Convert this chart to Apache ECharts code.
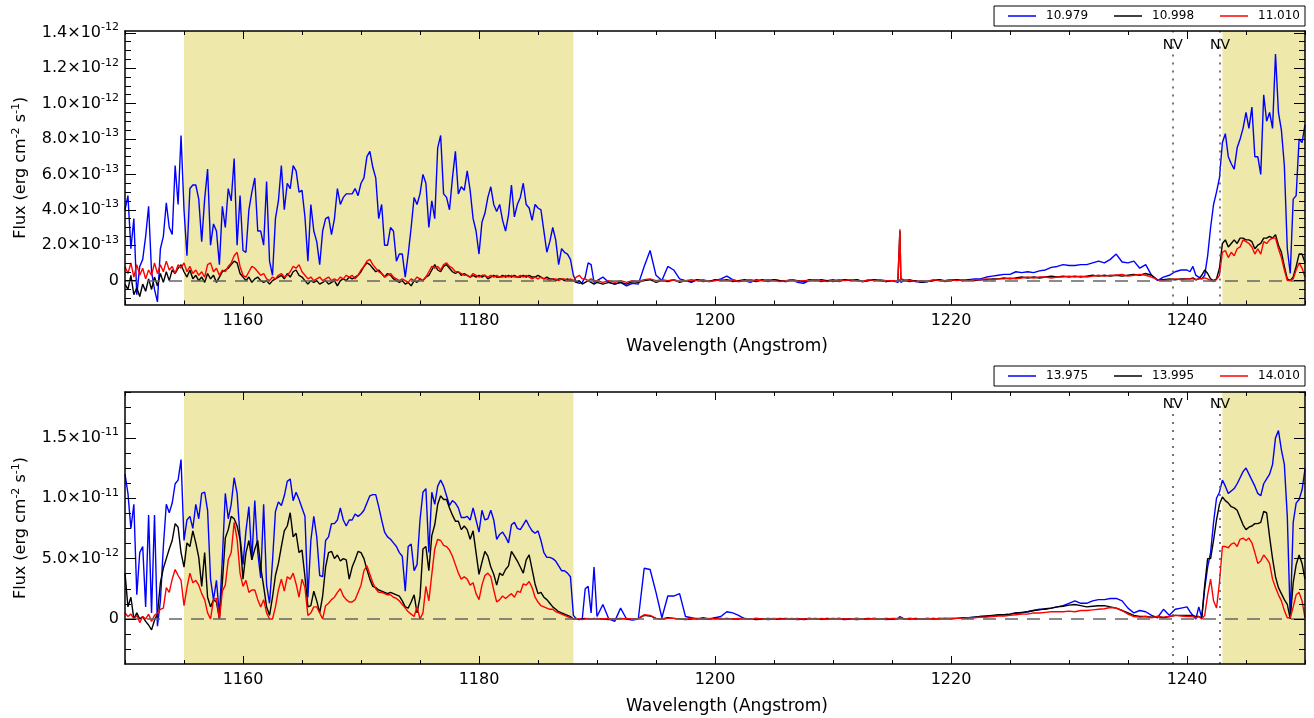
<!DOCTYPE html>
<html><head><meta charset="utf-8">
<script src="https://cdn.jsdelivr.net/npm/echarts@6/dist/echarts.min.js"></script>
<style>html,body{margin:0;padding:0;background:#fff}#c{width:1314px;height:718px}</style>
</head><body><div id="c"></div>
<script>
// ---------------- wavelength sampling (Angstrom) ----------------
const waveA = [
1150,1150.25,1150.5,1150.75,1151,1151.25,1151.5,1151.75,
1152,1152.25,1152.5,1152.75,1153,1153.25,1153.5,1153.75,
1154,1154.25,1154.5,1154.75,1155,1155.25,1155.5,1155.75,
1156,1156.25,1156.5,1156.75,1157,1157.25,1157.5,1157.75,
1158,1158.25,1158.5,1158.75,1159,1159.25,1159.5,1159.75,
1160,1160.25,1160.5,1160.75,1161,1161.25,1161.5,1161.75,
1162,1162.25,1162.5,1162.75,1163,1163.25,1163.5,1163.75,
1164,1164.25,1164.5,1164.75,1165,1165.25,1165.5,1165.75,
1166,1166.25,1166.5,1166.75,1167,1167.25,1167.5,1167.75,
1168,1168.25,1168.5,1168.75,1169,1169.25,1169.5,1169.75,
1170,1170.25,1170.5,1170.75,1171,1171.25,1171.5,1171.75,
1172,1172.25,1172.5,1172.75,1173,1173.25,1173.5,1173.75,
1174,1174.25,1174.5,1174.75,1175,1175.25,1175.5,1175.75,
1176,1176.25,1176.5,1176.75,1177,1177.25,1177.5,1177.75,
1178,1178.25,1178.5,1178.75,1179,1179.25,1179.5,1179.75,
1180,1180.25,1180.5,1180.75,1181,1181.25,1181.5,1181.75,
1182,1182.25,1182.5,1182.75,1183,1183.25,1183.5,1183.75,
1184,1184.25,1184.5,1184.75,1185,1185.25,1185.5,1185.75,
1186,1186.25,1186.5,1186.75,1187,1187.25,1187.5,1187.75,
1188,1188.25,1188.5,1188.75,1189,1189.25,1189.5,1189.75,
1190];
const waveB = [
1190.5,1191,1191.5,1192,1192.5,1193,1193.5,1194,1194.5,1195,
1195.5,1196,1196.5,1197,1197.5,1198,1198.5,1199,1199.5,1200,
1200.5,1201,1201.5,1202,1202.5,1203,1203.5,1204,1204.5,1205,
1205.5,1206,1206.5,1207,1207.5,1208,1208.5,1209,1209.5,1210,
1210.5,1211,1211.5,1212,1212.5,1213,1213.5,1214,1214.5,1215,
1215.5,1215.6,1215.67,1215.75,1216,1216.5,1217,1217.5,1218,1218.5,1219,1219.5,1220,
1220.5,1221,1221.5,1222,1222.5,1223,1223.5,1224,1224.5,1225,
1225.5,1226,1226.5,1227,1227.5,1228,1228.5,1229,1229.5,1230,
1230.5,1231,1231.5,1232,1232.5,1233,1233.5,1234,1234.5,1235,
1235.5,1236,1236.5,1237,1237.5,1238,1238.5,1239,1239.5,1240];
const waveC = [
1240.25,1240.5,1240.75,1241,1241.25,1241.5,1241.75,1242,
1242.25,1242.5,1242.75,1243,1243.25,1243.5,1243.75,1244,
1244.25,1244.5,1244.75,1245,1245.25,1245.5,1245.75,1246,
1246.25,1246.5,1246.75,1247,1247.25,1247.5,1247.75,1248,
1248.25,1248.5,1248.75,1249,1249.25,1249.5,1249.75,1250];

// ---------------- top panel flux (units of 1e-13 erg cm-2 s-1) ----------------
const topBlueA = [
4.0,4.8,1.8,3.5,-0.8,0.8,1.2,2.5,
4.2,0.5,-0.5,-1.2,1.8,2.5,4.4,3.0,
2.6,6.5,4.3,8.2,4.0,1.4,5.2,5.4,
5.4,4.6,2.2,4.6,6.3,2.0,3.2,2.8,
0.9,4.2,3.0,5.2,4.5,6.9,2.0,4.8,
1.7,1.6,4.0,5.0,5.8,2.8,2.8,2.0,
5.6,1.1,0.3,3.5,4.5,6.5,4.0,5.5,
5.2,6.5,6.2,5.0,5.1,3.6,1.1,4.3,
2.8,2.2,0.9,2.8,3.5,3.6,2.6,3.5,
5.2,4.3,4.7,4.9,4.9,4.9,5.2,4.8,
5.5,5.8,7.0,7.3,6.4,5.8,3.5,4.3,
2.0,2.0,3.0,2.8,1.1,1.5,1.5,0.2,
1.5,3.0,4.7,4.3,4.9,6.0,5.5,3.0,
4.5,3.5,7.5,8.2,4.9,4.7,4.0,5.8,
7.3,4.9,5.3,5.1,6.2,5.1,3.5,2.8,
1.5,3.3,3.8,4.7,5.3,4.3,3.9,4.3,
3.4,2.8,3.7,5.4,3.6,4.3,4.7,5.5,
4.3,4.1,3.4,4.3,4.1,4.0,2.8,1.6,
2.2,3.0,2.3,0.9,1.8,1.6,1.5,1.2,
0.3,-0.1,-0.15,-0.1,0.2,1.0,0.9,-0.1,
0.0];
const topBlueB = [
0.2,-0.1,-0.2,-0.1,-0.3,-0.15,-0.2,0.8,1.7,0.3,
0.0,0.8,0.6,0.1,0.0,-0.1,0.05,-0.05,0.0,0.0,
0.1,0.25,0.05,-0.05,0.0,-0.1,0.05,0.0,-0.05,0.05,
0.0,-0.05,0.05,-0.1,-0.15,0.0,0.05,-0.05,0.0,0.05,
-0.05,0.05,0.0,0.05,-0.05,0.0,0.05,0.0,-0.05,0.0,
-0.1,0.0,0.05,-0.1,0.0,0.05,-0.05,-0.1,-0.05,0.0,0.05,0.0,0.05,
0.05,0.0,0.05,0.1,0.1,0.2,0.25,0.3,0.35,0.35,
0.5,0.45,0.5,0.45,0.55,0.6,0.75,0.8,0.9,0.85,
0.85,0.9,0.9,1.0,1.1,1.0,1.2,1.5,1.05,1.0,
1.1,0.7,0.9,0.3,0.0,0.2,0.3,0.5,0.6,0.6];
const topBlueC = [
0.5,0.8,0.3,0.2,0.1,0.3,1.4,3.0,
4.3,5.0,5.8,7.8,8.3,7.0,6.6,6.3,
7.5,8.0,8.6,9.5,8.6,9.8,7.0,7.0,
6.0,10.5,9.0,9.5,8.6,12.8,9.5,8.5,
6.5,1.8,0.4,4.6,4.8,8.0,7.8,8.8];

const topBlackA = [
-0.2,-0.5,0.3,-0.8,-0.4,-0.9,-0.2,-0.6,
0.1,-0.5,0.2,-0.3,0.4,-0.1,0.5,0.0,
0.6,0.4,0.7,0.9,0.5,0.2,0.6,0.1,
0.3,0.0,0.2,-0.1,0.4,0.1,0.3,-0.1,
0.2,0.5,0.6,0.7,0.9,1.1,1.0,0.4,
0.2,0.0,0.2,-0.1,0.1,0.2,0.0,-0.1,
0.0,-0.2,0.0,0.1,0.2,0.3,0.1,0.4,
0.2,0.5,0.6,0.3,0.2,0.0,-0.2,0.0,
-0.1,0.0,-0.2,-0.1,0.0,-0.2,-0.1,0.0,
-0.3,0.0,0.1,0.0,0.2,0.1,0.2,0.3,
0.5,0.8,1.0,0.9,0.7,0.5,0.6,0.4,
0.2,0.4,0.3,0.1,0.0,-0.1,0.0,-0.2,
-0.1,-0.3,0.0,-0.1,0.1,0.0,0.2,0.3,
0.6,0.9,0.6,0.5,0.8,0.9,0.7,0.5,
0.4,0.5,0.3,0.4,0.3,0.2,0.3,0.2,
0.3,0.2,0.3,0.1,0.2,0.3,0.2,0.2,
0.3,0.2,0.3,0.2,0.3,0.2,0.2,0.3,
0.2,0.3,0.2,0.2,0.3,0.2,0.1,0.2,
0.1,0.1,0.0,0.1,0.1,0.0,0.1,0.0,
0.0,-0.1,0.0,-0.2,-0.1,0.0,-0.1,-0.2,
-0.1];
const topBlackB = [
-0.2,-0.1,-0.2,-0.1,-0.2,-0.05,-0.1,0.0,0.05,-0.1,
0.0,-0.05,0.05,-0.1,0.0,-0.05,0.05,0.0,-0.05,0.05,
0.0,0.05,-0.05,0.0,0.05,0.0,-0.05,0.05,0.0,0.05,
0.0,-0.05,0.05,0.0,-0.05,0.05,0.0,0.05,0.0,-0.05,
0.0,0.05,0.0,0.05,-0.05,0.0,0.05,0.0,-0.05,0.0,
0.0,0.1,2.8,0.1,0.0,-0.05,0.0,-0.1,-0.05,0.0,0.05,-0.05,0.0,
0.05,0.0,0.05,0.0,0.05,0.05,0.1,0.1,0.15,0.1,
0.15,0.2,0.15,0.2,0.15,0.2,0.25,0.2,0.25,0.2,
0.25,0.2,0.25,0.3,0.25,0.3,0.25,0.3,0.25,0.3,
0.35,0.3,0.4,0.3,0.05,0.05,0.1,0.05,0.1,0.1];
const topBlackC = [
0.1,0.15,0.05,0.1,0.3,0.6,0.4,0.1,
0.0,0.1,0.7,2.1,2.3,1.9,2.1,2.3,
2.1,2.4,2.4,2.3,2.3,2.2,1.8,2.0,
2.1,2.4,2.4,2.5,2.4,2.6,2.0,1.6,
0.8,0.1,0.0,0.2,0.8,1.5,1.5,1.0];

const topRedA = [
0.8,0.4,1.0,0.2,0.9,0.3,0.7,0.1,
0.6,0.3,1.0,0.4,0.9,0.5,1.1,0.6,
0.8,0.4,0.9,0.7,1.0,0.5,0.8,0.4,
0.6,0.3,0.5,0.2,0.9,1.0,0.5,0.7,
0.3,0.6,0.5,0.8,1.0,1.4,1.6,0.8,
0.3,0.2,0.5,0.8,0.7,0.5,0.3,0.4,
0.1,0.0,0.2,0.1,0.3,0.4,0.2,0.3,
0.5,0.8,0.7,0.9,0.5,0.3,0.1,0.2,
0.0,0.1,0.2,0.0,0.1,0.2,0.0,0.1,
0.0,0.2,0.1,0.3,0.2,0.3,0.1,0.3,
0.6,0.8,1.1,1.2,0.9,0.7,0.5,0.4,
0.2,0.3,0.4,0.2,0.1,0.0,0.1,0.0,
-0.1,0.1,0.0,0.2,0.1,0.0,0.2,0.5,
0.8,0.7,0.8,0.6,0.9,1.0,0.8,0.7,
0.5,0.5,0.4,0.3,0.3,0.2,0.4,0.3,
0.2,0.3,0.3,0.2,0.3,0.2,0.3,0.2,
0.2,0.3,0.2,0.3,0.2,0.2,0.3,0.2,
0.3,0.2,0.1,0.2,0.1,0.2,0.1,0.1,
0.0,0.1,0.1,0.0,0.1,0.1,0.0,0.1,
0.0,0.2,0.3,0.1,0.1,0.0,0.1,0.0,
0.0];
const topRedB = [
-0.1,0.0,-0.1,0.0,-0.1,0.0,-0.05,0.05,0.1,0.0,
0.05,0.0,0.05,-0.05,0.0,0.05,0.0,0.05,-0.05,0.0,
0.05,0.0,0.05,-0.05,0.0,0.05,0.0,0.0,0.05,0.0,
-0.05,0.0,0.05,-0.05,0.0,0.0,0.05,0.0,-0.05,0.0,
0.05,0.0,0.05,0.0,-0.05,0.05,0.0,0.05,0.0,0.0,
0.0,0.1,2.9,0.1,0.05,0.0,-0.05,0.0,-0.05,0.05,0.0,0.0,0.05,
0.0,0.05,0.0,0.05,0.05,0.1,0.05,0.1,0.1,0.15,
0.1,0.15,0.2,0.15,0.2,0.2,0.15,0.2,0.2,0.25,
0.2,0.25,0.2,0.25,0.3,0.25,0.3,0.3,0.35,0.25,
0.3,0.35,0.3,0.2,0.05,0.0,0.05,0.1,0.05,0.1];
const topRedC = [
0.1,0.1,0.05,0.1,0.1,0.15,0.1,0.0,
-0.05,0.05,0.3,1.6,1.7,1.3,1.6,1.4,
1.8,1.9,2.3,2.2,2.1,1.9,1.5,1.8,
1.5,2.2,2.1,2.3,2.4,2.4,1.8,1.3,
0.6,0.0,0.0,0.1,0.6,1.0,0.7,0.2];

// ---------------- bottom panel flux (units of 1e-12 erg cm-2 s-1) ----------------
const botBlueA = [
12.0,10.4,7.5,9.5,2.0,5.5,6.0,1.0,
8.6,0.5,8.6,-0.6,1.5,6.0,9.5,8.8,
9.6,11.2,11.5,13.2,6.5,8.2,8.5,7.5,
9.5,8.3,10.4,10.5,9.0,3.3,1.6,3.2,
0.3,5.0,10.4,8.3,9.5,11.7,10.4,6.8,
4.5,7.3,9.3,4.9,9.8,5.5,3.4,9.5,
2.8,1.3,4.8,8.9,9.7,9.4,10.2,11.4,
11.6,9.8,10.5,9.9,9.2,8.5,1.8,6.5,
8.5,6.8,3.6,3.5,6.5,6.8,7.9,7.9,
8.2,9.2,8.2,7.7,8.2,8.2,8.7,8.5,
8.7,9.0,9.6,10.2,10.3,10.3,9.3,8.2,
7.2,6.8,6.6,6.3,6.0,5.5,5.2,2.3,
6.0,6.2,4.0,4.5,8.2,10.5,10.8,5.5,
10.5,9.5,11.0,11.5,11.0,10.2,9.4,9.8,
9.6,9.2,8.4,8.4,8.5,8.2,9.2,8.2,
7.2,9.0,8.2,8.3,9.0,8.2,6.6,7.0,
7.2,6.8,6.3,7.8,8.0,7.5,7.4,7.8,
8.2,7.7,7.3,7.1,7.3,6.5,5.5,5.1,
5.1,5.0,4.8,4.4,4.0,4.0,3.8,3.5,
0.3,0.0,0.0,0.0,2.5,2.7,0.5,4.3,
0.2];
const botBlueB = [
1.2,0.0,-0.2,0.9,0.0,-0.1,0.0,4.2,4.1,2.2,
0.1,1.9,1.9,2.1,0.2,0.1,0.0,0.1,0.0,0.1,
0.2,0.6,0.5,0.3,0.0,0.0,0.05,0.0,-0.05,0.0,
0.05,0.0,0.0,0.05,-0.05,0.0,0.05,0.0,0.0,0.05,
0.0,-0.05,0.0,0.05,0.0,0.0,0.05,0.0,-0.05,0.0,
0.0,0.1,0.2,0.1,0.0,0.05,0.0,0.0,0.05,0.0,0.05,0.05,0.0,
0.05,0.1,0.1,0.15,0.2,0.2,0.25,0.3,0.35,0.4,
0.5,0.5,0.6,0.7,0.8,0.8,0.9,1.0,1.1,1.3,
1.5,1.3,1.3,1.5,1.6,1.6,1.7,1.7,1.5,0.9,
0.5,0.7,0.6,0.3,0.1,0.8,0.3,0.8,0.9,1.0];
const botBlueC = [
0.6,0.3,0.0,1.0,0.1,2.5,4.3,5.5,
8.0,10.0,10.5,11.5,11.0,10.4,10.6,10.8,
11.2,11.7,12.2,12.5,12.0,11.5,11.0,10.4,
10.2,11.2,11.6,12.0,12.8,15.0,15.6,14.0,
12.8,8.5,0.0,8.0,9.6,9.9,10.7,12.4];

const botBlackA = [
3.8,1.0,1.8,0.0,0.5,0.0,0.2,-0.2,
-0.5,-0.9,-0.1,0.4,3.0,4.2,5.0,5.8,
6.5,7.9,7.6,5.5,4.3,6.3,6.0,7.3,
6.3,5.1,2.7,5.5,1.8,1.0,1.6,1.4,
0.0,3.0,6.7,7.4,8.5,8.3,7.7,6.6,
3.3,5.5,6.5,4.9,5.8,6.5,4.3,2.7,
1.0,0.3,1.8,3.6,4.6,6.0,7.3,7.7,
8.8,6.8,7.1,5.5,5.7,3.5,1.0,1.1,
2.3,1.5,0.5,1.9,4.3,5.5,5.6,5.0,
5.3,4.8,5.0,4.9,3.3,4.3,4.9,5.6,
5.5,5.0,4.1,3.3,2.7,2.6,2.4,2.3,
2.2,2.1,2.2,2.1,2.0,1.9,1.5,1.0,
0.9,1.4,2.0,0.5,1.8,5.8,6.0,4.0,
6.9,7.8,9.5,10.2,9.9,9.9,9.2,8.6,
8.1,8.1,7.4,7.7,7.4,6.6,7.3,5.5,
3.7,4.7,5.6,5.2,4.3,3.7,2.8,3.8,
3.6,4.1,4.4,5.6,5.2,4.8,4.3,3.8,
4.9,5.3,4.1,2.9,2.1,2.2,1.8,1.6,
1.3,1.0,0.8,0.6,0.5,0.4,0.3,0.2,
0.0,0.0,-0.05,0.0,0.05,0.0,0.0,0.05,
0.0];
const botBlackB = [
0.0,-0.05,0.0,0.05,0.0,0.0,0.05,0.3,0.25,0.05,
0.0,0.1,0.05,0.0,-0.05,0.0,0.05,0.0,0.0,0.05,
0.0,0.05,0.0,0.0,0.05,0.0,-0.05,0.0,0.05,0.0,
0.0,0.05,0.0,-0.05,0.0,0.05,0.0,0.0,0.05,0.0,
0.05,0.0,0.0,-0.05,0.0,0.05,0.0,0.0,0.05,0.0,
0.05,0.05,0.1,0.05,0.0,0.0,0.05,0.0,0.0,0.05,0.0,0.05,0.05,
0.05,0.05,0.1,0.15,0.2,0.25,0.3,0.35,0.35,0.4,
0.5,0.55,0.6,0.7,0.75,0.85,0.9,1.0,1.05,1.15,
1.2,1.1,1.0,1.05,1.1,1.1,1.0,0.9,0.7,0.5,
0.3,0.2,0.2,0.15,0.2,0.1,0.2,0.3,0.3,0.3];
const botBlackC = [
0.3,0.3,0.2,0.2,0.1,2.8,5.0,5.0,
6.5,8.2,9.5,10.1,9.8,9.6,9.3,9.2,
9.0,8.4,7.8,7.4,7.6,7.7,7.9,7.9,
8.0,8.9,8.8,6.8,5.0,3.5,2.6,2.1,
1.6,1.2,0.0,3.0,4.5,5.3,4.6,3.3];

const botRedA = [
0.5,0.2,0.4,0.0,0.3,-0.3,0.2,0.0,
0.4,-0.2,0.3,0.5,0.8,0.9,2.6,2.2,
3.3,4.1,3.6,3.2,1.1,2.6,3.8,3.0,
3.2,2.8,2.1,1.6,0.5,0.0,1.6,1.7,
0.0,2.3,2.8,4.9,5.5,8.0,6.6,3.8,
2.7,3.2,2.2,2.4,2.4,1.6,1.0,1.6,
0.5,0.0,0.0,1.0,2.4,3.3,2.3,3.5,
3.3,3.8,2.9,1.8,3.3,2.6,0.3,0.5,
1.0,1.0,0.5,0.0,1.1,1.3,1.6,1.8,
2.2,2.5,1.9,1.6,1.4,1.4,1.6,2.2,
2.8,4.0,4.4,3.7,3.0,2.5,2.2,2.2,
2.1,2.0,2.0,1.8,1.7,1.5,1.2,0.9,
0.6,0.4,0.2,1.0,0.0,0.5,2.7,1.5,
3.7,5.8,6.6,6.5,6.1,6.0,5.7,5.2,
4.5,3.8,3.3,3.5,3.3,2.8,3.0,2.1,
1.6,2.8,3.6,3.8,3.5,2.4,1.4,1.6,
1.9,1.7,1.9,2.1,1.8,2.3,2.2,2.9,
2.8,3.1,2.6,1.8,1.4,1.1,1.0,0.9,
0.8,0.8,0.6,0.5,0.4,0.3,0.2,0.1,
0.0,0.05,0.0,-0.05,0.0,0.05,0.0,0.0,
0.05];
const botRedB = [
0.0,0.05,-0.05,0.0,0.05,0.0,0.05,0.35,0.3,0.05,
0.0,0.05,0.05,0.0,0.0,0.05,0.0,0.0,0.05,0.0,
0.05,0.0,0.0,0.05,0.0,0.0,0.05,0.0,0.0,0.05,
0.0,0.0,0.05,0.0,0.0,0.05,0.0,0.05,0.0,0.0,
0.05,0.0,0.0,0.05,0.0,0.0,0.05,0.0,0.0,0.05,
0.05,0.1,0.15,0.05,0.0,0.05,0.0,0.0,0.05,0.0,0.05,0.0,0.05,
0.05,0.05,0.1,0.1,0.15,0.15,0.2,0.25,0.25,0.3,
0.35,0.4,0.4,0.5,0.5,0.55,0.6,0.6,0.6,0.65,
0.6,0.7,0.7,0.75,0.8,0.85,0.95,0.9,0.7,0.4,
0.2,0.15,0.2,0.1,0.2,0.15,0.2,0.3,0.25,0.2];
const botRedC = [
0.2,0.2,0.1,0.2,0.0,0.3,2.0,3.3,
1.5,0.9,3.0,6.0,6.0,5.9,6.2,6.3,
6.0,6.6,6.7,6.5,6.7,6.3,5.5,4.6,
4.8,5.3,5.0,4.6,3.3,2.6,2.0,1.5,
0.7,0.1,0.1,1.0,2.0,2.2,1.5,0.1];

// ---------------- names, ticks, marked regions ----------------
const topNames = ['10.979','10.998','11.010'];
const botNames = ['13.975','13.995','14.010'];
const xMajorTicks = [1160,1180,1200,1220,1240];
const xMajorLabels = ['1160','1180','1200','1220','1240'];
const xMinorTicks = [1150,1155,1165,1170,1175,1185,1190,1195,1205,1210,1215,1225,1230,1235,1245,1250];
const topYMajor = [0,2,4,6,8,10,12,14];
const topYMant  = ['0','2.0','4.0','6.0','8.0','1.0','1.2','1.4'];
const topYExp   = ['','-13','-13','-13','-13','-12','-12','-12'];
const topYMinor = [-1,-0.5,0.5,1,1.5,2.5,3,3.5,4.5,5,5.5,6.5,7,7.5,8.5,9,9.5,10.5,11,11.5,12.5,13,13.5];
const botYMajor = [0,5,10,15];
const botYMant  = ['0','5.0','1.0','1.5'];
const botYExp   = ['','-12','-11','-11'];
const botYMinor = [-2.5,-1.25,1.25,2.5,3.75,6.25,7.5,8.75,11.25,12.5,13.75,16.25,17.5,18.75];
const shadeRanges = [[1155,1188],[1243,1250]];
const nvLines = [1238.8,1242.8];
const nvLabel = 'NV';

// ---------------- build ----------------
const wave = waveA.concat(waveB, waveC);
const FONT = 'DejaVu Sans';
const X_MIN = 1150, X_MAX = 1250;
const panels = [
  {g:0, top:31, height:273.5, yMin:-1.35, yMax:14.1, major:topYMajor, mant:topYMant, exp:topYExp, minor:topYMinor,
   names:topNames, series:[topBlueA.concat(topBlueB,topBlueC), topBlackA.concat(topBlackB,topBlackC), topRedA.concat(topRedB,topRedC)],
   nvY:13.3, legendTop:6},
  {g:1, top:392, height:272, yMin:-3.73, yMax:18.8, major:botYMajor, mant:botYMant, exp:botYExp, minor:botYMinor,
   names:botNames, series:[botBlueA.concat(botBlueB,botBlueC), botBlackA.concat(botBlackB,botBlackC), botRedA.concat(botRedB,botRedC)],
   nvY:17.8, legendTop:366}
];
const colors = ['#0000ff','#000000','#ff0000'];
const tickStyle = {color:'#000', width:1};
const frameStyle = {color:'#000', width:1.5};
const xFmt = v => { const i = xMajorTicks.findIndex(t => Math.abs(t - v) < 1e-9); return i < 0 ? '' : xMajorLabels[i]; };

const grid=[], xAxis=[], yAxis=[], series=[], legend=[];
let lenProblem = false;
panels.forEach(p => {
  grid.push({left:125, top:p.top, width:1180, height:p.height, containLabel:false, outerBoundsMode:'none'});
  const xb = {gridIndex:p.g, type:'value', min:X_MIN, max:X_MAX, z:5, splitLine:{show:false}, minorTick:{show:false}, minorSplitLine:{show:false}};
  xAxis.push(
    Object.assign({}, xb, {position:'bottom', axisLine:{show:true,onZero:false,lineStyle:frameStyle},
      axisTick:{show:true,inside:true,length:8,customValues:xMajorTicks,lineStyle:tickStyle},
      axisLabel:{show:true,customValues:xMajorTicks,margin:8,color:'#000',fontSize:16,fontFamily:FONT,formatter:xFmt},
      name:'Wavelength (Angstrom)', nameLocation:'middle', nameGap:34,
      nameTextStyle:{color:'#000',fontSize:17,fontFamily:FONT,padding:[0,0,0,24]}}),
    Object.assign({}, xb, {position:'bottom', axisLine:{show:false,onZero:false},
      axisTick:{show:true,inside:true,length:4,customValues:xMinorTicks,lineStyle:tickStyle}, axisLabel:{show:false}}),
    Object.assign({}, xb, {position:'top', axisLine:{show:true,onZero:false,lineStyle:frameStyle},
      axisTick:{show:true,inside:true,length:8,customValues:xMajorTicks,lineStyle:tickStyle}, axisLabel:{show:false}}),
    Object.assign({}, xb, {position:'top', axisLine:{show:false,onZero:false},
      axisTick:{show:true,inside:true,length:4,customValues:xMinorTicks,lineStyle:tickStyle}, axisLabel:{show:false}})
  );
  const yb = {gridIndex:p.g, type:'value', min:p.yMin, max:p.yMax, z:5, splitLine:{show:false}, minorTick:{show:false}, minorSplitLine:{show:false}};
  const fmt = v => { const i = p.major.findIndex(t => Math.abs(t - v) < 1e-9); if (i < 0) return '';
    return p.exp[i] ? '{m|' + p.mant[i] + '×10}{s|' + p.exp[i] + '}' : '{m|' + p.mant[i] + '}'; };
  yAxis.push(
    Object.assign({}, yb, {position:'left', axisLine:{show:true,onZero:false,lineStyle:frameStyle},
      axisTick:{show:true,inside:true,length:11,customValues:p.major,lineStyle:tickStyle},
      axisLabel:{show:true,customValues:p.major,margin:6,formatter:fmt,
        rich:{m:{fontFamily:FONT,fontSize:16,color:'#000',lineHeight:22},
              s:{fontFamily:FONT,fontSize:11,color:'#000',lineHeight:12,verticalAlign:'top'}}},
      name:'{a|Flux (erg cm}{s|-2}{a| s}{s|-1}{a|)}', nameLocation:'middle', nameRotate:90, nameGap:94,
      nameTextStyle:{rich:{a:{fontFamily:FONT,fontSize:16,color:'#000',lineHeight:20},
                           s:{fontFamily:FONT,fontSize:11,color:'#000',lineHeight:11,verticalAlign:'top'}}}}),
    Object.assign({}, yb, {position:'left', axisLine:{show:false,onZero:false},
      axisTick:{show:true,inside:true,length:6,customValues:p.minor,lineStyle:tickStyle}, axisLabel:{show:false}}),
    Object.assign({}, yb, {position:'right', axisLine:{show:true,onZero:false,lineStyle:frameStyle},
      axisTick:{show:true,inside:true,length:11,customValues:p.major,lineStyle:tickStyle}, axisLabel:{show:false}}),
    Object.assign({}, yb, {position:'right', axisLine:{show:false,onZero:false},
      axisTick:{show:true,inside:true,length:6,customValues:p.minor,lineStyle:tickStyle}, axisLabel:{show:false}})
  );
  const xi = p.g*4, yi = p.g*4;
  // holder series for the shaded bands, zero line, NV markers
  series.push({type:'line', xAxisIndex:xi, yAxisIndex:yi, data:[[X_MIN,0]], symbol:'none', silent:true, z:1,
    lineStyle:{opacity:0}, animation:false,
    markArea:{silent:true, itemStyle:{color:'#eee8aa'}, data: shadeRanges.map(r => [{xAxis:r[0]},{xAxis:r[1]}])},
    markLine:{silent:true, symbol:['none','none'], label:{show:false}, animation:false,
      data:[{yAxis:0, lineStyle:{type:[13,9], color:'#666', width:1.6}}].concat(
        nvLines.map(x => ({xAxis:x, lineStyle:{type:[2,6], color:'#555', width:1.6}})))},
    markPoint:{silent:true, symbol:'circle', symbolSize:0, animation:false,
      label:{show:true, position:'inside', formatter:nvLabel, color:'#000', fontSize:14, fontFamily:FONT},
      data: nvLines.map(x => ({coord:[x, p.nvY]}))}
  });
  p.series.forEach((ys, k) => {
    if (ys.length !== wave.length) lenProblem = true;
    series.push({type:'line', name:p.names[k], xAxisIndex:xi, yAxisIndex:yi, z:2+k,
      data: wave.map((x,i) => [x, ys[i]]), symbol:'none', showSymbol:false, animation:false,
      lineStyle:{color:colors[k], width:1.4}, itemStyle:{color:colors[k]}});
  });
  legend.push({data:p.names.map(n => ({name:n, icon:'rect'})), right:9, top:p.legendTop, orient:'horizontal',
    itemWidth:28, itemHeight:1.5, itemGap:26,
    padding:[4,5,4,14], borderColor:'#000', borderWidth:1, borderRadius:0, backgroundColor:'#fff',
    selectedMode:false, textStyle:{fontFamily:FONT, fontSize:12, color:'#000', padding:[0,0,0,5]}});
});

const chart = echarts.init(document.getElementById('c'), null, {renderer:'canvas'});
chart.setOption({backgroundColor:'#fff', animation:false, grid, xAxis, yAxis, series, legend,
  graphic: lenProblem ? [{type:'text', left:400, top:200, style:{text:'LENGTH MISMATCH', fill:'red', fontSize:40}}] : []});
</script></body></html>
